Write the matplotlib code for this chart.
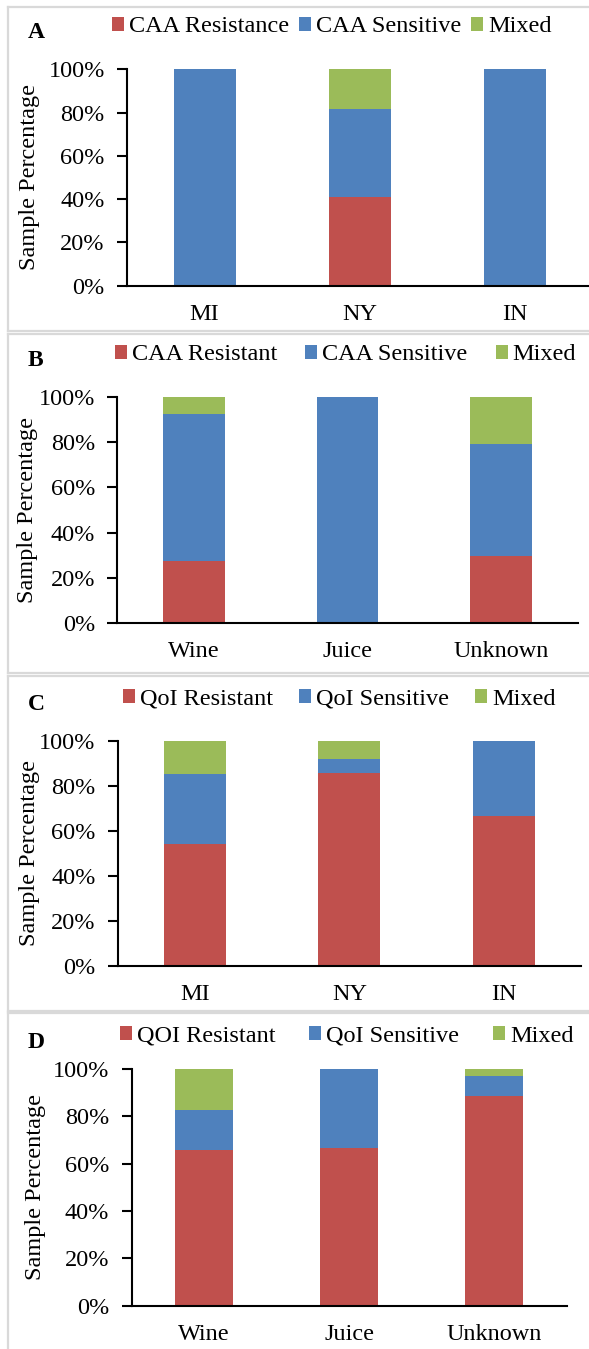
import numpy as np
import matplotlib
matplotlib.use('Agg')
import matplotlib.pyplot as plt
from matplotlib.lines import Line2D

#%% DATA (percent of samples)

states = ['MI', 'NY', 'IN']
sources = ['Wine', 'Juice', 'Unknown']

caa_state_res = [0, 40.9, 0]
caa_state_sens = [100, 40.9, 100]
caa_state_mix = [0, 18.2, 0]

caa_source_res = [27.3, 0, 29.5]
caa_source_sens = [65.5, 100, 50.0]
caa_source_mix = [7.2, 0, 20.5]

qoi_state_res = [54.2, 85.9, 66.7]
qoi_state_sens = [31.3, 6.2, 33.3]
qoi_state_mix = [14.5, 7.9, 0]

qoi_source_res = [65.7, 66.7, 88.5]
qoi_source_sens = [17.1, 33.3, 8.5]
qoi_source_mix = [17.2, 0, 3.0]

legA = ['CAA Resistance', 'CAA Sensitive', 'Mixed']
legB = ['CAA Resistant', 'CAA Sensitive', 'Mixed']
legC = ['QoI Resistant', 'QoI Sensitive', 'Mixed']
legD = ['QOI Resistant', 'QoI Sensitive', 'Mixed']

#%% STYLE

RED = '#C0504D'
BLUE = '#4F81BD'
GREEN = '#9BBB59'
FS = 17.5

plt.rcParams['font.family'] = ['Liberation Serif', 'DejaVu Serif']
plt.rcParams['font.size'] = FS

W, H = 589, 1349
fig = plt.figure(figsize=(W / 100, H / 100), dpi=100)


def box(top, bottom):
    # light grey frame around each panel (right side runs off the page)
    kw = dict(color='#d9d9d9', lw=1.6, transform=fig.transFigure)
    fig.add_artist(Line2D([8 / W, 1.01], [1 - top / H] * 2, **kw))
    fig.add_artist(Line2D([8 / W, 1.01], [1 - bottom / H] * 2, **kw))
    fig.add_artist(Line2D([8 / W] * 2, [1 - top / H, 1 - bottom / H], **kw))


def panel(pos, cats, res, sens, mix, names, letter, leg, colsp, ylab_x):
    left, right, top, bottom = pos
    ax = fig.add_axes([left / W, 1 - bottom / H, (right - left) / W, (bottom - top) / H])
    x = np.arange(len(cats))
    ax.bar(x, res, 0.4, color=RED, label=names[0])
    ax.bar(x, sens, 0.4, bottom=res, color=BLUE, label=names[1])
    ax.bar(x, mix, 0.4, bottom=np.add(res, sens), color=GREEN, label=names[2])

    ax.set_xlim(-0.5, len(cats) - 0.5)
    ax.set_ylim(0, 100)
    ax.set_yticks(np.arange(0, 101, 20))
    ax.set_yticklabels(['%d%%' % v for v in range(0, 101, 20)])
    ax.set_xticks(x)
    ax.set_xticklabels(cats)
    ax.tick_params(axis='y', length=7, width=1.5, pad=9)
    ax.tick_params(axis='x', length=0, pad=13)
    for s in ['top', 'right']:
        ax.spines[s].set_visible(False)
    for s in ['left', 'bottom']:
        ax.spines[s].set_linewidth(1.5)

    ax.set_ylabel('Sample Percentage', va='center')
    ax.yaxis.set_label_coords((ylab_x - left) / (right - left), 0.5)

    ax.legend(loc='center left', bbox_to_anchor=(leg[0] / W, 1 - leg[1] / H),
              bbox_transform=fig.transFigure, ncol=3, frameon=False,
              handlelength=0.5, handleheight=0.5, handletextpad=0.2,
              columnspacing=colsp, borderpad=0, borderaxespad=0)
    fig.text(28 / W, 1 - (leg[1] + 6) / H, letter, weight='bold', fontsize=17,
             ha='left', va='center')
    return ax


#%% PANELS

box(7, 331)
box(334, 673)
box(676, 1011)
box(1013, 1360)

panel((127, 592, 69.3, 285.7), states, caa_state_res, caa_state_sens, caa_state_mix,
      legA, 'A', (112, 27), 0.4, 30)
panel((117.2, 578, 397.3, 622.7), sources, caa_source_res, caa_source_sens, caa_source_mix,
      legB, 'B', (115, 355), 1.15, 27.5)
panel((117.6, 581, 741, 966), states, qoi_state_res, qoi_state_sens, qoi_state_mix,
      legC, 'C', (122.5, 699), 1.08, 30)
panel((131.5, 567, 1069, 1305.7), sources, qoi_source_res, qoi_source_sens, qoi_source_mix,
      legD, 'D', (119.5, 1036), 1.4, 35.7)

plt.savefig('out.png', dpi=100)
